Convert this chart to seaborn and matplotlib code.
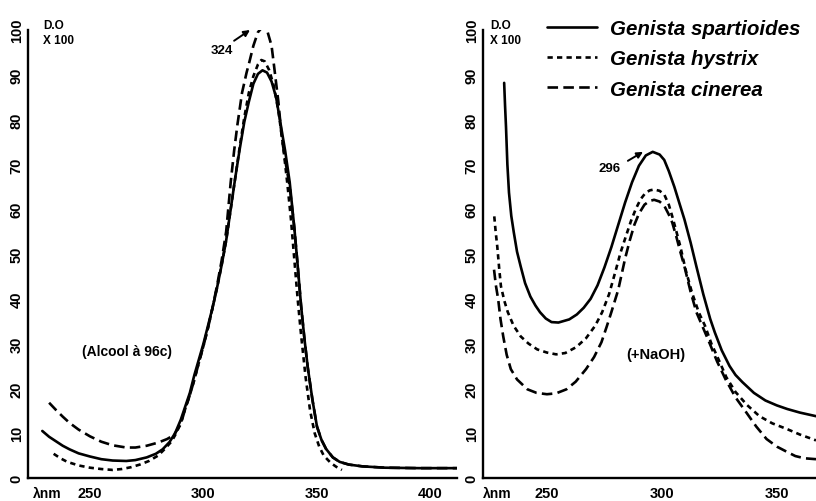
import matplotlib
matplotlib.use("Agg")
import matplotlib.pyplot as plt
import seaborn as sns
import pandas as pd

# ---------------- data ----------------
species = ["Genista spartioides", "Genista hystrix", "Genista cinerea"]

# Left panel (Alcool à 96c)
l_spart_x = [229, 232, 235, 238, 241, 245, 250, 255, 260, 266, 270, 275, 279, 282, 285, 287.5,
             290, 292, 294, 296, 298, 300, 302, 304, 306, 308, 310, 312, 314, 316, 318, 320, 322, 324, 326,
             328, 330, 332, 334, 336, 338, 340, 341.5, 343, 344.5, 346, 348, 350, 352, 354, 357, 360,
             364, 370, 380, 395, 412]
l_spart_y = [10.5, 9.2, 8.2, 7.2, 6.4, 5.5, 4.8, 4.2, 3.9, 3.8, 4.0, 4.6, 5.4, 6.4, 8.0, 10,
             13, 16, 19, 23, 26.5, 30, 34, 38, 42.5, 47.5, 53, 60, 67, 73.5, 79.5, 84, 88, 90.2, 91,
             90.5, 88.5, 85, 79, 73, 66, 56, 47.5, 38.5, 31, 24.5, 17.5, 11.5, 8.5, 6.5, 4.6, 3.6,
             3.0, 2.6, 2.3, 2.2, 2.2]
l_hyst_x = [234, 237, 240, 245, 250, 255, 260, 264, 268, 272, 276, 280, 283, 286, 288, 290, 292, 294,
            296, 298, 300, 302, 304, 306, 308, 310, 312, 314, 316, 318, 320, 322, 324, 325.5, 327, 329,
            331, 333, 335, 337, 338.5, 340, 341.5, 343, 345, 347, 349, 351, 353, 356, 358.5, 361]
l_hyst_y = [5.4, 4.4, 3.6, 2.8, 2.3, 2.0, 1.8, 2.0, 2.4, 3.0, 3.8, 5.0, 6.5, 8.2, 10, 12.3, 15.5, 18.5,
            22, 25.8, 29.5, 33.5, 38, 42.5, 47.5, 53, 60, 67, 74, 80.5, 86, 89.7, 92.3, 93.3, 93, 91,
            87.5, 82, 74.5, 65.5, 58, 49, 40, 32, 22.5, 15, 10, 7, 5, 3.4, 2.5, 1.8]
l_cin_x = [232, 235, 238, 241, 245, 250, 255, 260, 266, 270, 275, 280, 284, 287, 290, 292, 294, 296,
           298, 300, 302, 304, 306, 308, 310, 312, 313.5, 315, 317, 319, 320, 322, 324, 326, 328, 330,
           331, 333, 334.5, 336, 338, 340, 341.5, 343, 344.5, 346, 348, 350, 352, 354, 357, 360, 364,
           370, 380, 395, 412]
l_cin_y = [16.8, 15.2, 13.7, 12.3, 10.8, 9.3, 8.1, 7.3, 6.8, 6.8, 7.2, 7.9, 8.7, 9.6, 12, 15.5, 18.5, 22,
           25.8, 29.5, 33.5, 38, 43, 48.5, 55, 66, 73, 79, 86, 90.5, 92.4, 96.5, 99.5, 100.7, 100, 96.5,
           92.4, 84, 76, 71, 65, 56, 47.5, 38.5, 31, 24.5, 17.5, 11.5, 8.5, 6.5, 4.6, 3.6, 3.0,
           2.6, 2.3, 2.2, 2.2]

# Right panel (+NaOH)
r_spart_x = [231.4, 231.8, 232.2, 232.8, 233.5, 234.5, 235.6, 237, 238.6, 240.5, 242.8, 245, 247, 249.5,
             252, 255, 259.7, 263, 266, 269, 272, 275, 278, 281, 284, 287, 290, 293, 296, 299, 301, 303,
             305.4, 307.5, 309.8, 312.5, 315, 318, 321, 323, 326, 329.4, 332, 335, 340, 345, 350, 354.5,
             360, 367]
r_spart_y = [88.2, 83, 78.4, 70, 63.7, 58.5, 54.8, 50.5, 47.2, 43.5, 40.5, 38.5, 37, 35.6,
             34.8, 34.7, 35.4, 36.5, 38, 40, 43, 47, 51.5, 56.5, 61.5, 66, 69.7, 72, 72.8, 72.2, 71, 68.5,
             65, 61.5, 57.7, 52.5, 47.2, 41, 35.5, 32.5, 28.5, 25, 23, 21.4, 19, 17.3, 16.2, 15.4,
             14.6, 13.8]
r_hyst_x = [227.1, 227.7, 228.4, 229.2, 230, 231.5, 233, 235.5, 238.6, 242, 245.8, 250, 254, 258, 262.7,
            267, 271, 274, 277, 280, 282, 284.3, 286.5, 288.6, 290.7, 292.8, 294.7, 296.6, 299, 301, 303,
            304.5, 306.3, 308, 310.3, 313, 316, 318.8, 321.5, 324.6, 328, 332, 337, 342.4, 348, 354.5,
            360, 367]
r_hyst_y = [58.4, 55, 51.7, 47, 42.8, 39.5, 37, 34, 31.6, 30, 28.7, 28, 27.6, 27.9, 29.2,
            31.2, 34, 37, 41, 46.5, 50.3, 53.9, 57.3, 60, 62.2, 63.6, 64.2, 64.4, 64.1, 63.3, 61,
            58.4, 55, 51.7, 46.5, 41.5, 37, 33.9, 30, 26.5, 22.5, 19.2, 16.3, 13.8, 12.2, 10.9,
            9.7, 8.4]
r_cin_x = [227, 227.8, 228.8, 229.8, 231, 232.5, 234.3, 237, 241.5, 245.5, 250, 254, 258.5, 262.5, 267,
           270.5, 273.7, 276, 278, 281, 284, 286, 288, 290, 292.4, 294.5, 296.6, 299, 301, 303, 304.5,
           306.3, 308, 309.8, 312.5, 315, 317.5, 320, 324, 327.7, 332, 336.6, 341, 345.5, 350, 354.5,
           358, 362, 367]
r_cin_y = [46.5, 43, 39.9, 35.5, 31.6, 27.5, 24.3, 22, 19.8, 19, 18.7, 18.9, 19.8, 21.5, 24.3,
           27, 30.3, 33.8, 37, 42, 49, 53, 56.5, 59, 61, 61.8, 62.1, 61.7, 60.8, 58.8, 57,
           53.8, 50.5, 47.2, 41.5, 37, 34, 31, 26, 22, 18, 14.7, 11.5, 8.7, 7, 5.8,
           4.9, 4.4, 4.2]

x_ticks_left = [250, 300, 350, 400]
x_ticks_right = [250, 300, 350]
y_ticks = [0, 10, 20, 30, 40, 50, 60, 70, 80, 90, 100]


def frame(xs_list, ys_list):
    rows = []
    for sp, xs, ys in zip(species, xs_list, ys_list):
        for x, y in zip(xs, ys):
            rows.append({"wavelength": x, "absorbance": y, "species": sp})
    return pd.DataFrame(rows)


df_left = frame([l_spart_x, l_hyst_x, l_cin_x], [l_spart_y, l_hyst_y, l_cin_y])
df_right = frame([r_spart_x, r_hyst_x, r_cin_x], [r_spart_y, r_hyst_y, r_cin_y])

# ---------------- style ----------------
sns.set_style("white")
plt.rcParams["font.family"] = ["Liberation Sans", "DejaVu Sans"]
plt.rcParams["font.weight"] = "bold"
for key in ["text.color", "axes.labelcolor", "xtick.color", "ytick.color", "axes.edgecolor"]:
    plt.rcParams[key] = "black"

dash_map = {"Genista spartioides": "", "Genista hystrix": (2.0, 1.6), "Genista cinerea": (4.0, 2.0)}

fig = plt.figure(figsize=(8.16, 5.02), dpi=100)
ax_l = fig.add_axes([28 / 816, 23 / 502, 429 / 816, 448 / 502])
ax_r = fig.add_axes([483 / 816, 23 / 502, 333 / 816, 448 / 502])

for ax, df, xl, xt in [(ax_l, df_left, (222.7, 411.7), x_ticks_left),
                       (ax_r, df_right, (222.2, 367.0), x_ticks_right)]:
    sns.lineplot(data=df, x="wavelength", y="absorbance", style="species",
                 style_order=species, dashes=dash_map, color="black", linewidth=1.9,
                 estimator=None, sort=False, ax=ax, legend=(ax is ax_r))
    for ln in ax.get_lines():
        ln.set_solid_joinstyle("round")
        ln.set_dash_joinstyle("round")
    ax.set_xlim(*xl)
    ax.set_ylim(0, 100)
    ax.set_xticks(xt)
    ax.set_yticks(y_ticks)
    ax.set_xlabel("")
    ax.set_ylabel("")
    for s in ["top", "right"]:
        ax.spines[s].set_visible(False)
    for s in ["left", "bottom"]:
        ax.spines[s].set_linewidth(1.7)
        ax.spines[s].set_color("black")
    ax.tick_params(axis="both", direction="in", length=3, width=1.2, colors="black",
                   labelsize=10.5)
    ax.tick_params(axis="x", pad=6)
    ax.tick_params(axis="y", pad=3)
    for lab in ax.get_yticklabels():
        lab.set_rotation(90)
        lab.set_va("center")
        lab.set_ha("right")
        lab.set_fontweight("bold")
    for lab in ax.get_xticklabels():
        lab.set_fontweight("bold")

# legend (right panel, top)
leg = ax_r.get_legend()
handles = leg.legend_handles
leg.remove()
leg = fig.legend(handles, species, loc="upper left", bbox_to_anchor=(547 / 816, 1 - 20 / 502),
                 bbox_transform=fig.transFigure, frameon=False, borderpad=0, borderaxespad=0,
                 handlelength=2.45, handletextpad=0.62, labelspacing=0.55,
                 prop={"family": "Liberation Sans", "style": "italic", "weight": "bold", "size": 14.8})
for h in leg.legend_handles:
    h.set_linewidth(1.9)
    h.set_color("black")

# axis captions
for x0 in (43, 490):
    fig.text(x0 / 816, 1 - 26 / 502, "D.O", fontsize=8.5, fontweight="bold", va="center", ha="left")
    fig.text(x0 / 816, 1 - 41 / 502, "X 100", fontsize=8.5, fontweight="bold", va="center", ha="left")
for x0 in (33, 483):
    fig.text(x0 / 816, 1 - 494 / 502, "λnm", fontsize=10, fontweight="bold", va="center", ha="left")

# peak annotations
ax_l.text(308.2, 95.5, "324", fontsize=9.5, fontweight="bold", ha="center", va="center")
ax_l.annotate("", xy=(320.5, 100.0), xytext=(313.5, 97.6),
              arrowprops=dict(arrowstyle="-|>", lw=1.4, color="black", mutation_scale=9,
                              shrinkA=0, shrinkB=0), annotation_clip=False)
ax_r.text(277.4, 69.3, "296", fontsize=9.5, fontweight="bold", ha="center", va="center")
ax_r.annotate("", xy=(291.8, 72.8), xytext=(285.2, 70.8),
              arrowprops=dict(arrowstyle="-|>", lw=1.4, color="black", mutation_scale=9,
                              shrinkA=0, shrinkB=0), annotation_clip=False)

ax_l.text(266.3, 28.4, "(Alcool à 96c)", fontsize=10, fontweight="bold", ha="center", va="center")
ax_r.text(297.4, 27.6, "(+NaOH)", fontsize=10.5, fontweight="bold", ha="center", va="center")

fig.savefig("out.png", dpi=100, facecolor="white")
